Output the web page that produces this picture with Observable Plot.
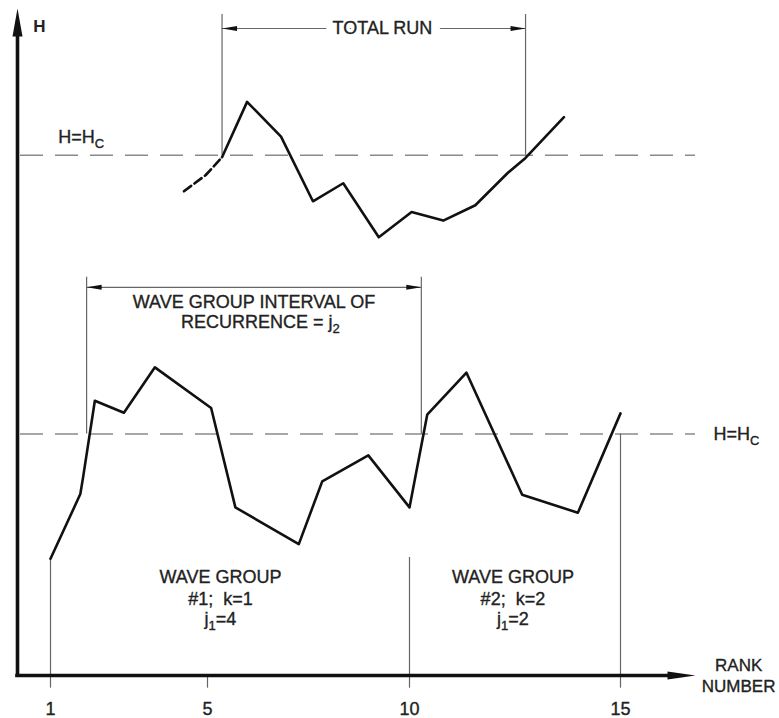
<!DOCTYPE html>
<html>
<head>
<meta charset="utf-8">
<script src="https://cdn.jsdelivr.net/npm/d3@7"></script>
<script src="https://cdn.jsdelivr.net/npm/@observablehq/plot@0.6"></script>
<style>
  html, body { margin: 0; padding: 0; background: #fff; }
  #chart svg { display: block; }
</style>
</head>
<body>
<div id="chart"></div>
<script>
// ---------- data (rank number, wave height H in arbitrary units) ----------
const xTicks = [1, 5, 10, 15];
const hcLevels = [7.80, 3.62];

// lower record
const lowerRank = [1.00, 1.76, 1.83, 2.13, 2.87, 3.66, 5.09, 5.69, 7.26, 7.84, 8.98, 10.00, 10.42, 11.35, 12.67, 13.99, 15.00];
const lowerH    = [1.75, 2.72, 2.97, 4.12, 3.94, 4.62, 4.01, 2.52, 1.97, 2.91, 3.30, 2.52, 3.91, 4.54, 2.71, 2.44, 3.93];

// upper record: dashed lead-in, then solid run
const upperLeadRank = [4.40, 4.95, 5.36];
const upperLeadH    = [7.26, 7.50, 7.77];
const upperRank = [5.36, 5.98, 6.82, 7.61, 8.36, 9.24, 10.05, 10.80, 11.56, 12.32, 12.75, 13.66];
const upperH    = [7.77, 8.60, 8.08, 7.11, 7.38, 6.57, 6.95, 6.82, 7.05, 7.53, 7.76, 8.37];

// dimension spans: "total run" and "wave group interval of recurrence"
const spanStart = [5.36, 1.92];
const spanEnd   = [12.75, 10.28];
const spanBase  = [7.80, 3.62];
const spanTop   = [9.91, 5.97];
const spanLine  = [9.70, 5.82];

// wave-group boundary guides
const guideRank = [1, 10, 15];
const guideTop  = [1.75, 1.77, 3.62];

// annotations
const labelText = ["H=H_C", "H=H_C", "TOTAL RUN", "WAVE GROUP INTERVAL OF", "RECURRENCE = j_2",
                   "WAVE GROUP", "#1;  k=1", "j_1=4", "WAVE GROUP", "#2;  k=2", "j_1=2"];
const labelRank = [1.20, 17.48, 9.33, 6.15, 6.31, 5.32, 5.32, 5.32, 12.45, 12.45, 12.45];
const labelH    = [8.07, 3.62, 9.70, 5.59, 5.29, 1.47, 1.15, 0.85, 1.47, 1.15, 0.85];
const labelAnchor = ["start", "start", "middle", "middle", "middle", "middle", "middle", "middle", "middle", "middle", "middle"];

const yTitle = "H";
const xTitle = ["RANK", "NUMBER"];
const xTitleH = [0.15, -0.165];

// ---------- helpers ----------
const pts = (xs, ys) => xs.map((x, i) => ({x, y: ys[i]}));
const arrowHead = (len, wid) => ({
  draw(ctx) { ctx.moveTo(0, 0); ctx.lineTo(wid / 2, len); ctx.lineTo(-wid / 2, len); ctx.closePath(); }
});
const ink = "#111";
const thin = "#666";
const txt = "#222";
const heavy = {fill: txt, stroke: txt, strokeWidth: 0.35};

// the drawing's rank axis is hand-spaced: piecewise-linear placement of ranks
const rankWarp = d3.scaleLinear().domain([0, 1, 5, 10, 15, 17]).range([17, 50, 207, 409, 620, 695]);

const lower = pts(lowerRank, lowerH);
const upperLead = pts(upperLeadRank, upperLeadH);
const upper = pts(upperRank, upperH);
const spans = spanStart.map((s, i) => ({s, e: spanEnd[i], b: spanBase[i], t: spanTop[i], l: spanLine[i]}));
const guides = guideRank.map((x, i) => ({x, t: guideTop[i]}));
const labels = labelText.map((text, i) => ({text, x: labelRank[i], y: labelH[i], a: labelAnchor[i]}));
const spanHeads = spans.flatMap(d => [{x: d.s, y: d.l, r: -90}, {x: d.e, y: d.l, r: 90}]);

const chart = Plot.plot({
  width: 779,
  height: 718,
  marginTop: 8,
  marginLeft: 17,
  marginRight: 84,
  marginBottom: 43,
  style: {fontFamily: "'Liberation Sans', Arial, sans-serif", fontSize: "18px", background: "#fff", color: txt},
  x: {transform: rankWarp, domain: [17, 695], range: [17, 695], axis: null},
  y: {domain: [0, 10], range: [675, 8], axis: null},
  marks: [
    // critical-height reference lines
    Plot.ruleY(hcLevels, {y: d => d, x1: 0, x2: 17, stroke: "#8a8a8a", strokeWidth: 1.6,
                          strokeDasharray: "23,12", strokeDashoffset: 32}),
    // thin guides
    Plot.ruleX(guides, {x: "x", y1: "t", y2: 0, stroke: thin, strokeWidth: 1.2}),
    Plot.ruleX(spans, {x: "s", y1: "b", y2: "t", stroke: thin, strokeWidth: 1.2}),
    Plot.ruleX(spans, {x: "e", y1: "b", y2: "t", stroke: thin, strokeWidth: 1.2}),
    Plot.ruleY(spans, {y: "l", x1: "s", x2: "e", stroke: thin, strokeWidth: 1.2}),
    Plot.dot(spanHeads, {x: "x", y: "y", rotate: "r", symbol: arrowHead(15, 5), fill: ink, stroke: null}),
    // records
    Plot.line(upperLead, {x: "x", y: "y", stroke: ink, strokeWidth: 2.6, strokeDasharray: "9,4"}),
    Plot.line(upper, {x: "x", y: "y", stroke: ink, strokeWidth: 2.6, strokeLinejoin: "round"}),
    Plot.line(lower, {x: "x", y: "y", stroke: ink, strokeWidth: 2.6, strokeLinejoin: "round"}),
    // axes
    Plot.ruleX(xTicks, {x: d => d, y1: 0, y2: -0.19, stroke: thin, strokeWidth: 1.2}),
    Plot.ruleX([0], {y1: 0, y2: 9.62, stroke: ink, strokeWidth: 3.6, strokeLinecap: "square"}),
    Plot.ruleY([0], {x1: 0, x2: 16.4, stroke: ink, strokeWidth: 3.6, strokeLinecap: "square"}),
    Plot.dot([{x: 0, y: 10, r: 0}], {x: "x", y: "y", rotate: "r", symbol: arrowHead(28, 10), fill: ink, stroke: null}),
    Plot.dot([{x: 17, y: 0, r: 90}], {x: "x", y: "y", rotate: "r", symbol: arrowHead(28, 8), fill: ink, stroke: null}),
    Plot.text(xTicks, {x: d => d, y: -0.5, text: d => String(d), textAnchor: "middle", ...heavy}),
    // texts
    Plot.text([yTitle], {x: 0.48, y: 9.73, text: d => d, textAnchor: "start", fontWeight: "bold", fontSize: 17, fill: txt}),
    Plot.text(labels, {x: "x", y: "y", text: "text", textAnchor: "start",
                       filter: d => d.a === "start", ...heavy}),
    Plot.text(labels.filter(d => d.text === "TOTAL RUN"), {x: "x", y: "y", text: "text", textAnchor: "middle",
                       fill: "white", stroke: "white", strokeWidth: 18}),
    Plot.text(labels, {x: "x", y: "y", text: "text", textAnchor: "middle",
                       filter: d => d.a === "middle", ...heavy}),
    Plot.text(xTitle, {x: 18.15, y: (d, i) => xTitleH[i], text: d => d, textAnchor: "middle", fontSize: 17, ...heavy})
  ]
});

// render "_X" as a subscript while keeping the text as real text
d3.select(chart).selectAll("text").each(function() {
  const s = this.textContent;
  if (!s.includes("_")) return;
  const parts = s.split(/_(\w)/);
  const el = d3.select(this);
  this.textContent = "";
  parts.forEach((p, i) => {
    if (!p) return;
    const t = el.append("tspan").text(p);
    if (i % 2 === 1) t.attr("font-size", "13").attr("dy", "5");
    else if (i > 0) t.attr("dy", "-5");
  });
});

document.getElementById("chart").appendChild(chart);
</script>
</body>
</html>
